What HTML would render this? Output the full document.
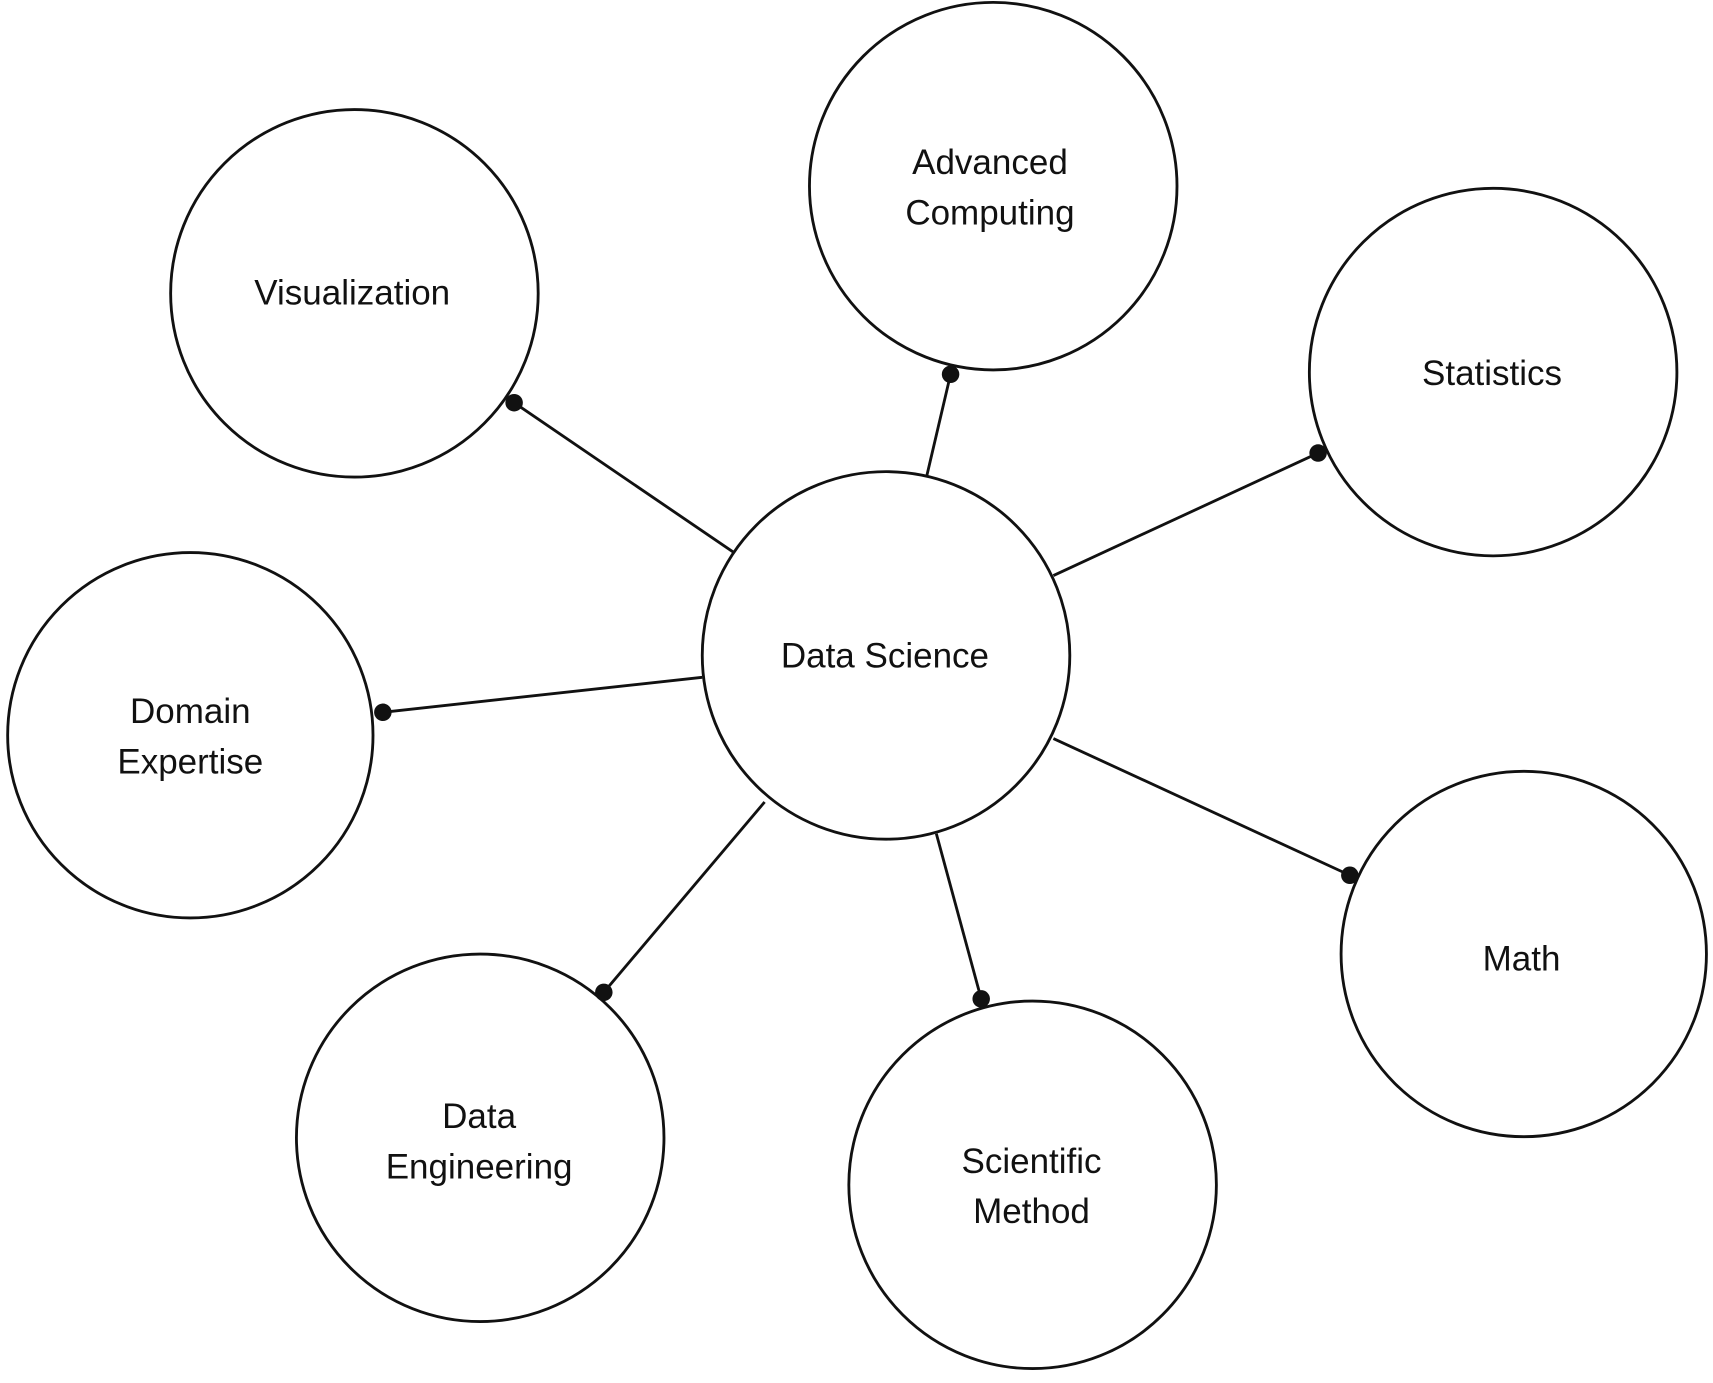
<!DOCTYPE html>
<html><head><meta charset="utf-8"><style>
html,body{margin:0;padding:0;background:#fff;}
svg{display:block;}
text{font-family:"Liberation Sans",sans-serif;font-size:32px;fill:#111;text-anchor:middle;}
</style></head><body>
<svg width="1713" height="1383" viewBox="0 0 1566 1264" xmlns="http://www.w3.org/2000/svg">
<rect width="1566" height="1264" fill="#fff"/>
<g stroke="#111" stroke-width="2.6" fill="none">
<line x1="671" y1="505" x2="470" y2="368"/>
<line x1="847" y1="436" x2="869" y2="342"/>
<line x1="963" y1="526" x2="1205" y2="414"/>
<line x1="642" y1="619" x2="350" y2="651"/>
<line x1="699" y1="733" x2="552" y2="907"/>
<line x1="856" y1="762" x2="897" y2="913"/>
<line x1="963" y1="675" x2="1234" y2="800"/>
<circle cx="324" cy="268" r="168"/>
<circle cx="908" cy="170" r="168"/>
<circle cx="1365" cy="340" r="168"/>
<circle cx="810" cy="599" r="168"/>
<circle cx="174" cy="672" r="167"/>
<circle cx="439" cy="1040" r="168"/>
<circle cx="944" cy="1083" r="168"/>
<circle cx="1393" cy="872" r="167"/>
</g>
<g fill="#111">
<circle cx="470" cy="368" r="8"/>
<circle cx="869" cy="342" r="8"/>
<circle cx="1205" cy="414" r="8"/>
<circle cx="350" cy="651" r="8"/>
<circle cx="552" cy="907" r="8"/>
<circle cx="897" cy="913" r="8"/>
<circle cx="1234" cy="800" r="8"/>
</g>
<text x="322" y="278">Visualization</text>
<text x="905" y="159">Advanced</text>
<text x="905" y="205">Computing</text>
<text x="1364" y="352">Statistics</text>
<text x="809" y="610">Data Science</text>
<text x="174" y="661">Domain</text>
<text x="174" y="707">Expertise</text>
<text x="438" y="1031">Data</text>
<text x="438" y="1077">Engineering</text>
<text x="943" y="1072">Scientific</text>
<text x="943" y="1118">Method</text>
<text x="1391" y="887">Math</text>
</svg>
</body></html>
